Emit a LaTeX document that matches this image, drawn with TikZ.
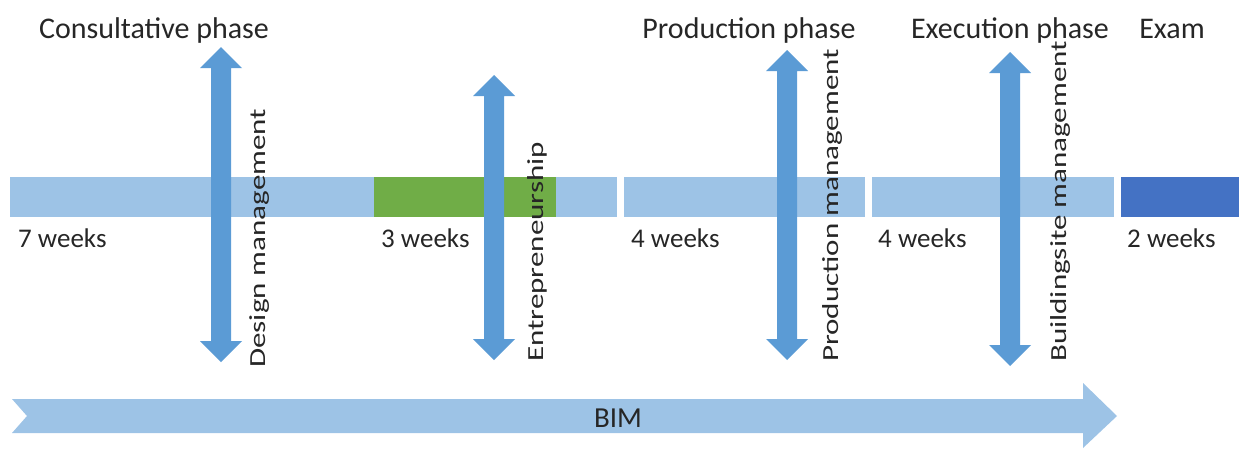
\documentclass[tikz,border=0pt]{standalone}
\usepackage{fontspec}
\setmainfont{Carlito}
\begin{document}
\begin{tikzpicture}[x=1pt,y=-1pt,
  bar/.style={fill=barblue},
  dblarrow/.style={fill=arrowblue},
  title/.style={inner sep=0pt,anchor=base,font=\fontsize{30}{33}\selectfont,text=black!85},
  weeks/.style={inner sep=0pt,anchor=base west,font=\fontsize{27}{30}\selectfont,text=black!85},
  vlbl/.style={inner sep=0pt,anchor=base west,rotate=90,font=\fontsize{23}{26}\selectfont,text=black!85}]
\definecolor{barblue}{HTML}{9DC3E6}
\definecolor{greenbar}{HTML}{70AD47}
\definecolor{darkblue}{HTML}{4472C4}
\definecolor{arrowblue}{HTML}{5B9BD5}
\useasboundingbox (0,0) rectangle (1239,448);

% timeline segments
\fill[bar] (10,177) rectangle (617,217);
\fill[greenbar] (374,177) rectangle (556,217);
\fill[bar] (624,177) rectangle (865,217);
\fill[bar] (872,177) rectangle (1114,217);
\fill[darkblue] (1121,177) rectangle (1239,217);

% vertical double arrows: centre x, top y, bottom y
\newcommand\vdouble[3]{%
  \fill[dblarrow] (#1,#2) -- (#1+21,#2+21) -- (#1+10,#2+21) -- (#1+10,#3-21)
    -- (#1+21,#3-21) -- (#1,#3) -- (#1-21,#3-21) -- (#1-10,#3-21)
    -- (#1-10,#2+21) -- (#1-21,#2+21) -- cycle;}
\vdouble{221}{47}{362}
\vdouble{494}{75}{360}
\vdouble{787}{50}{360}
\vdouble{1010}{52}{366}

% BIM arrow
\fill[bar] (12,399) -- (1083,399) -- (1083,383) -- (1117,416) -- (1083,448)
  -- (1083,433) -- (12,433) -- (27,416) -- cycle;
\node[title,font=\fontsize{29}{32}\selectfont] (bim) at (618,427) {BIM};

% phase titles
\node[title] (consult) at (154,38) {Consultative phase};
\node[title] (prod) at (749,38) {Production phase};
\node[title] (exec) at (1010,38) {Execution phase};
\node[title] (exam) at (1172,38) {Exam};

% durations
\node[weeks] (w1) at (18,247) {7 weeks};
\node[weeks] (w2) at (381,247) {3 weeks};
\node[weeks] (w3) at (631,247) {4 weeks};
\node[weeks] (w4) at (878,247) {4 weeks};
\node[weeks] (w5) at (1127,247) {2 weeks};

% vertical labels, set wide along their length
\newcommand\widetext[1]{\scalebox{1.35}[1]{#1}}
\node[vlbl] (design) at (265,368) {\widetext{Design management}};
\node[vlbl] (entre) at (543,362) {\widetext{Entrepreneurship}};
\node[vlbl] (prodm) at (838,362) {\widetext{Production management}};
\node[vlbl] (build) at (1066,362) {\widetext{Buildingsite management}};
\end{tikzpicture}
\end{document}
